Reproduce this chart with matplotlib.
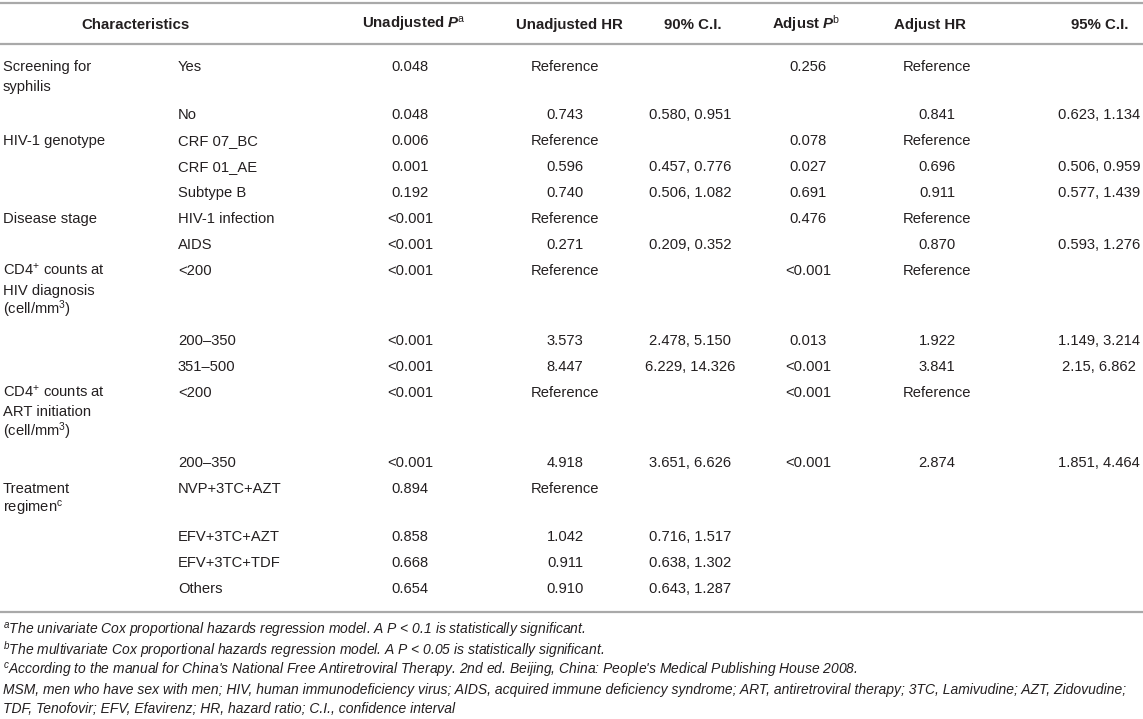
import matplotlib
matplotlib.use("Agg")
import matplotlib.pyplot as plt

plt.rcParams["font.family"] = ["Liberation Sans", "DejaVu Sans"]
plt.rcParams["mathtext.fontset"] = "custom"
plt.rcParams["mathtext.rm"] = "Liberation Sans"
plt.rcParams["mathtext.it"] = "Liberation Sans:italic"
plt.rcParams["mathtext.bf"] = "Liberation Sans:bold"
plt.rcParams["mathtext.bfit"] = "Liberation Sans:bold:italic"

# --- table content ---
headers = ["Characteristics", r"Unadjusted $\mathbfit{P}^{\mathrm{a}}$", "Unadjusted HR", "90% C.I.",
           r"Adjust $\mathbfit{P}^{\mathrm{b}}$", "Adjust HR", "95% C.I."]

groups = ["Screening for\nsyphilis", "HIV-1 genotype", "Disease stage",
          "CD4$^{+}$ counts at\nHIV diagnosis\n(cell/mm$^{3}$)",
          "CD4$^{+}$ counts at\nART initiation\n(cell/mm$^{3}$)",
          "Treatment\nregimen$^{\\mathrm{c}}$"]
group_start = [0, 2, 5, 7, 10, 12]

levels = ["Yes", "No", "CRF 07_BC", "CRF 01_AE", "Subtype B", "HIV-1 infection", "AIDS",
          "<200", "200–350", "351–500", "<200", "200–350",
          "NVP+3TC+AZT", "EFV+3TC+AZT", "EFV+3TC+TDF", "Others"]
unadj_p = ["0.048", "0.048", "0.006", "0.001", "0.192", "<0.001", "<0.001", "<0.001",
           "<0.001", "<0.001", "<0.001", "<0.001", "0.894", "0.858", "0.668", "0.654"]
unadj_hr = ["Reference", "0.743", "Reference", "0.596", "0.740", "Reference", "0.271", "Reference",
            "3.573", "8.447", "Reference", "4.918", "Reference", "1.042", "0.911", "0.910"]
ci90 = ["", "0.580, 0.951", "", "0.457, 0.776", "0.506, 1.082", "", "0.209, 0.352", "",
        "2.478, 5.150", "6.229, 14.326", "", "3.651, 6.626", "", "0.716, 1.517", "0.638, 1.302",
        "0.643, 1.287"]
adj_p = ["0.256", "", "0.078", "0.027", "0.691", "0.476", "", "<0.001",
         "0.013", "<0.001", "<0.001", "<0.001", "", "", "", ""]
adj_hr = ["Reference", "0.841", "Reference", "0.696", "0.911", "Reference", "0.870", "Reference",
          "1.922", "3.841", "Reference", "2.874", "", "", "", ""]
ci95 = ["", "0.623, 1.134", "", "0.506, 0.959", "0.577, 1.439", "", "0.593, 1.276", "",
        "1.149, 3.214", "2.15, 6.862", "", "1.851, 4.464", "", "", "", ""]

footnotes = [
    "$^{a}$The univariate Cox proportional hazards regression model. A P < 0.1 is statistically significant.",
    "$^{b}$The multivariate Cox proportional hazards regression model. A P < 0.05 is statistically significant.",
    "$^{c}$According to the manual for China's National Free Antiretroviral Therapy. 2nd ed. Beijing, China: People's Medical Publishing House 2008.",
    "MSM, men who have sex with men; HIV, human immunodeficiency virus; AIDS, acquired immune deficiency syndrome; ART, antiretroviral therapy; 3TC, Lamivudine; AZT, Zidovudine;",
    "TDF, Tenofovir; EFV, Efavirenz; HR, hazard ratio; C.I., confidence interval",
]

# --- layout (pixels) ---
W, H = 1143, 719
txt = "#231f20"
rule = "#a9a9a9"
fs = 10.6
fs_head = 10.8
base = 5  # centre of a line -> its baseline
value_cols = [unadj_p, unadj_hr, ci90, adj_p, adj_hr, ci95]
col_x = [410, 565, 690, 808, 937, 1099]
head_x = [136, 414, 569, 693, 806, 930, 1100]

fig = plt.figure(figsize=(W / 100, H / 100), dpi=100)
ax = fig.add_axes([0, 0, 1, 1])
ax.set_xlim(0, W)
ax.set_ylim(H, 0)
ax.axis("off")

for y in (3, 44):
    ax.plot([0, W], [y, y], color=rule, lw=1.6)

for x, h in zip(head_x, headers):
    ax.text(x, 24 + base, h, ha="center", va="baseline", fontsize=fs_head,
            fontweight="bold", color=txt)

y = 66
for i, lev in enumerate(levels):
    n_lines = 1
    if i in group_start:
        parts = groups[group_start.index(i)].split("\n")
        n_lines = len(parts)
        for k, p in enumerate(parts):
            ax.text(3, y + k * 19.5 + base, p, ha="left", va="baseline", fontsize=fs, color=txt)
    ax.text(178, y + base, lev, ha="left", va="baseline", fontsize=fs, color=txt)
    for x, col in zip(col_x, value_cols):
        if col[i]:
            ax.text(x, y + base, col[i], ha="center", va="baseline", fontsize=fs, color=txt)
    y += 26 + (n_lines - 1) * 22

ax.plot([0, W], [612, 612], color=rule, lw=1.6)

for k, note in enumerate(footnotes):
    ax.text(3, 630 + k * 19.6 + base, note, ha="left", va="baseline", fontsize=10.0,
            fontstyle="italic", color=txt)

fig.savefig("out.png", dpi=100)
